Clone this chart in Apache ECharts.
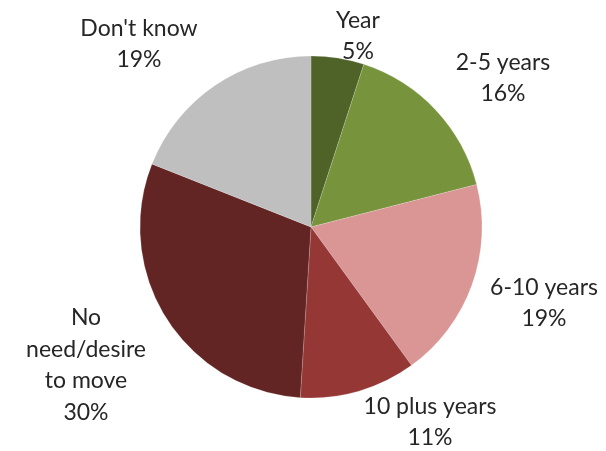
<!DOCTYPE html>
<html><head><meta charset="utf-8">
<script src="https://cdn.jsdelivr.net/npm/echarts@6/dist/echarts.min.js"></script>
<style>html,body{margin:0;padding:0;background:#fff}#c{width:606px;height:451px}</style>
</head><body><div id="c"></div>
<script>
const categories = ['Year', '2-5 years', '6-10 years', '10 plus years', 'No need/desire to move', "Don't know"];
const values = [5, 16, 19, 11, 30, 19];
const colors = ['#4f6228', '#77933c', '#d99694', '#953735', '#632523', '#bfbfbf'];
const labelPos = [[358, 36], [503, 78], [544, 303], [430, 422], [86, 365], [139, 44]];
const wrapped = {'No need/desire to move': 'No\nneed/desire\nto move'};

const chart = echarts.init(document.getElementById('c'));
chart.setOption({
  animation: false,
  series: [{
    type: 'pie',
    center: [311, 227],
    radius: 171,
    startAngle: 90,
    clockwise: true,
    data: categories.map((n, i) => ({name: n, value: values[i], itemStyle: {color: colors[i]}})),
    itemStyle: {borderColor: 'rgba(255,255,255,0.35)', borderWidth: 0.5},
    label: {
      show: true,
      position: 'inside',
      formatter: p => (wrapped[p.name] || p.name) + '\n' + p.value + '%',
      fontFamily: 'Lato, "Liberation Sans", sans-serif',
      fontSize: 23,
      lineHeight: 31.5,
      color: '#262626',
      align: 'center',
      overflow: 'none'
    },
    labelLine: {show: false},
    labelLayout: p => ({
      x: labelPos[p.dataIndex][0],
      y: labelPos[p.dataIndex][1],
      align: 'center',
      verticalAlign: 'middle'
    })
  }]
});
</script></body></html>
